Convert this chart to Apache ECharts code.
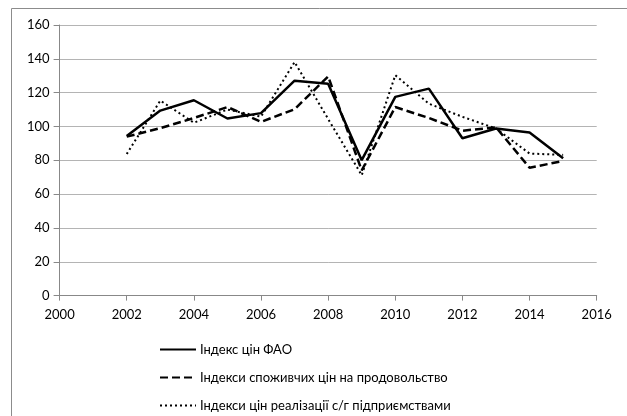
<!DOCTYPE html>
<html>
<head>
<meta charset="utf-8">
<script src="https://cdn.jsdelivr.net/npm/echarts@6/dist/echarts.min.js"></script>
<style>
html,body{margin:0;padding:0;background:#fff;}
#c{width:627px;height:416px;}
</style>
</head>
<body>
<div id="c"></div>
<script>
var years = [2002,2003,2004,2005,2006,2007,2008,2009,2010,2011,2012,2013,2014,2015];
var faoIndex = [94.4,109.4,115.5,104.7,107.9,127.1,125.2,80.1,117.5,122.4,93.0,98.8,96.5,81.2];
var cpiFood = [94.0,99.0,105.0,111.5,102.7,110.2,129.6,74.0,111.5,105.0,97.5,99.5,75.6,79.6];
var agriProducer = [83.7,115.3,102.2,110.0,105.8,138.1,104.4,71.2,130.3,113.5,105.7,98.8,84.0,83.2];
var seriesNames = ['Індекс цін ФАО','Індекси споживчих цін на продовольство','Індекси цін реалізації с/г підприємствами'];
var legendTops = [338, 366, 394];

function pairs(v){ return years.map(function(y,i){ return [y, v[i]]; }); }

var font = 'Lato, "Open Sans", sans-serif';
var chart = echarts.init(document.getElementById('c'), null, {renderer:'canvas'});
var legends = seriesNames.map(function(n,i){
  return {orient:'vertical', left:154, top:legendTops[i], itemWidth:36, itemHeight:12, itemGap:0,
    itemStyle:{opacity:0},
    textStyle:{color:'#000', fontSize:13, fontFamily:font, padding:[0,0,0,-1]},
    data:[n]};
});
chart.setOption({
  animation:false,
  backgroundColor:'#fff',
  graphic:[{type:'rect', shape:{x:11.5,y:8.5,width:700,height:500}, style:{fill:'none', stroke:'#8c8c8c', lineWidth:1}, silent:true}],
  grid:{left:59.6, right:30.3, top:25, bottom:120.4, containLabel:false},
  xAxis:{type:'value', min:2000, max:2016, interval:2,
    axisLine:{lineStyle:{color:'#888', width:1}},
    axisTick:{show:true, inside:false, length:5, lineStyle:{color:'#888'}},
    splitLine:{show:false},
    axisLabel:{color:'#000', fontSize:13, fontFamily:font, margin:13, formatter:function(v){return String(v);}}},
  yAxis:{type:'value', min:0, max:160, interval:20,
    axisLine:{show:true, lineStyle:{color:'#888', width:1}},
    axisTick:{show:true, length:6, lineStyle:{color:'#888'}},
    splitLine:{show:true, lineStyle:{color:'#b4b4b4', width:1}},
    axisLabel:{color:'#000', fontSize:13, fontFamily:font, margin:10}},
  legend:legends,
  series:[
    {name:seriesNames[0], type:'line', data:pairs(faoIndex), symbol:'none', lineStyle:{color:'#000', width:2.5, type:'solid'}, itemStyle:{color:'#000'}},
    {name:seriesNames[1], type:'line', data:pairs(cpiFood), symbol:'none', lineStyle:{color:'#000', width:2.5, type:[8,4]}, itemStyle:{color:'#000'}},
    {name:seriesNames[2], type:'line', data:pairs(agriProducer), symbol:'none', lineStyle:{color:'#000', width:2, type:[2,3]}, itemStyle:{color:'#000'}}
  ]
});
</script>
</body>
</html>
